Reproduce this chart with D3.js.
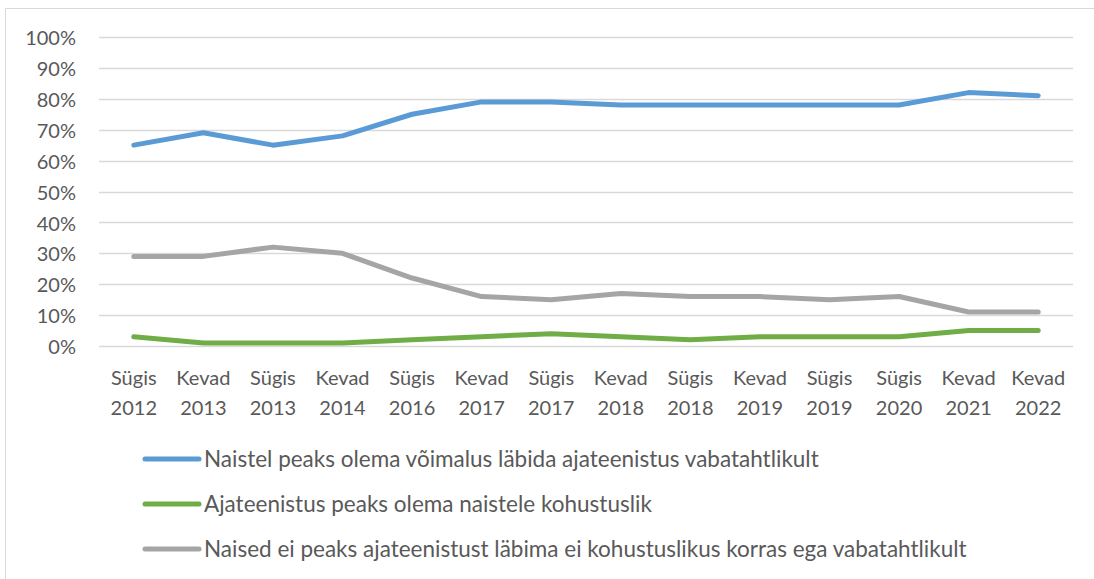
<!DOCTYPE html>
<html><head><meta charset="utf-8">
<script src="https://cdn.jsdelivr.net/npm/d3@7"></script>
<style>
html,body{margin:0;padding:0;background:#fff;}
svg{display:block;font-family:Lato,"Open Sans",sans-serif;}
</style></head>
<body>
<svg id="chart" width="1094" height="579"></svg>
<script>
const categories = [
  ["Sügis","2012"],["Kevad","2013"],["Sügis","2013"],["Kevad","2014"],["Sügis","2016"],
  ["Kevad","2017"],["Sügis","2017"],["Kevad","2018"],["Sügis","2018"],["Kevad","2019"],
  ["Sügis","2019"],["Sügis","2020"],["Kevad","2021"],["Kevad","2022"]
];
const seriesNames = [
  "Naistel peaks olema võimalus läbida ajateenistus vabatahtlikult",
  "Ajateenistus peaks olema naistele kohustuslik",
  "Naised ei peaks ajateenistust läbima ei kohustuslikus korras ega vabatahtlikult"
];
const voluntary = [65,69,65,68,75,79,79,78,78,78,78,78,82,81];
const mandatory = [3,1,1,1,2,3,4,3,2,3,3,3,5,5];
const neither = [29,29,32,30,22,16,15,17,16,16,15,16,11,11];
const seriesColors = ["#5B9BD5","#70AD47","#A5A5A5"];
const yTicks = [0,10,20,30,40,50,60,70,80,90,100];

(function(){
const svg = d3.select("#chart");
const textColor = "#595959";
const fam = "Lato,'Open Sans',sans-serif";

// frame
svg.append("path").attr("d","M5.5,579 V8.5 H1094").attr("fill","none").attr("stroke","#D9D9D9").attr("stroke-width",1);

const pLeft = 99, pRight = 1073, pTop = 37, pBottom = 346;
const keys = categories.map((c,i)=>i);
const x = d3.scaleBand().domain(keys).range([pLeft,pRight]);
const y = d3.scaleLinear().domain([0,100]).range([pBottom,pTop]);

// gridlines
svg.append("g").selectAll("line").data(yTicks).join("line")
  .attr("x1",pLeft).attr("x2",pRight)
  .attr("y1",d=>Math.round(y(d))+0.5).attr("y2",d=>Math.round(y(d))+0.5)
  .attr("stroke","#D9D9D9").attr("stroke-width",1.3);

// y axis labels
const yAxis = d3.axisLeft(y).tickValues(yTicks).tickFormat(d=>d+"%").tickSize(0).tickPadding(0);
const gy = svg.append("g").attr("transform",`translate(76,0)`).call(yAxis);
gy.select(".domain").remove();
gy.selectAll("text").attr("fill",textColor).style("font-size","20px").style("font-family",fam).attr("dy","0.38em");

// x axis labels
const xAxis = d3.axisBottom(x).tickSize(0).tickFormat(()=> "");
const gx = svg.append("g").attr("transform",`translate(0,${pBottom})`).call(xAxis);
gx.select(".domain").remove();
gx.selectAll(".tick text").each(function(d){
  const t = d3.select(this).text(null).attr("fill",textColor).style("font-size","20px").style("font-family",fam).attr("y",0).attr("dy",null);
  t.append("tspan").attr("x",0).attr("y",39).text(categories[d][0]);
  t.append("tspan").attr("x",0).attr("y",69).text(categories[d][1]);
});

// lines
const allSeries = [voluntary, mandatory, neither];
const line = d3.line().x((d,i)=>x(i)+x.bandwidth()/2).y(d=>y(d));
svg.append("g").selectAll("path").data(allSeries).join("path")
  .attr("d",line).attr("fill","none")
  .attr("stroke",(d,i)=>seriesColors[i]).attr("stroke-width",5)
  .attr("stroke-linecap","round").attr("stroke-linejoin","round");

// legend
const legendY = [459,504,549];
const lg = svg.append("g").selectAll("g").data(seriesNames).join("g")
  .attr("transform",(d,i)=>`translate(145,${legendY[i]})`);
lg.append("line").attr("x1",0).attr("x2",54).attr("y1",0).attr("y2",0)
  .attr("stroke",(d,i)=>seriesColors[i]).attr("stroke-width",5).attr("stroke-linecap","round");
lg.append("text").attr("x",59).attr("y",8)
  .attr("fill",textColor).style("font-size","22.5px").style("font-family",fam).text(d=>d);
})();
</script>
</body></html>
